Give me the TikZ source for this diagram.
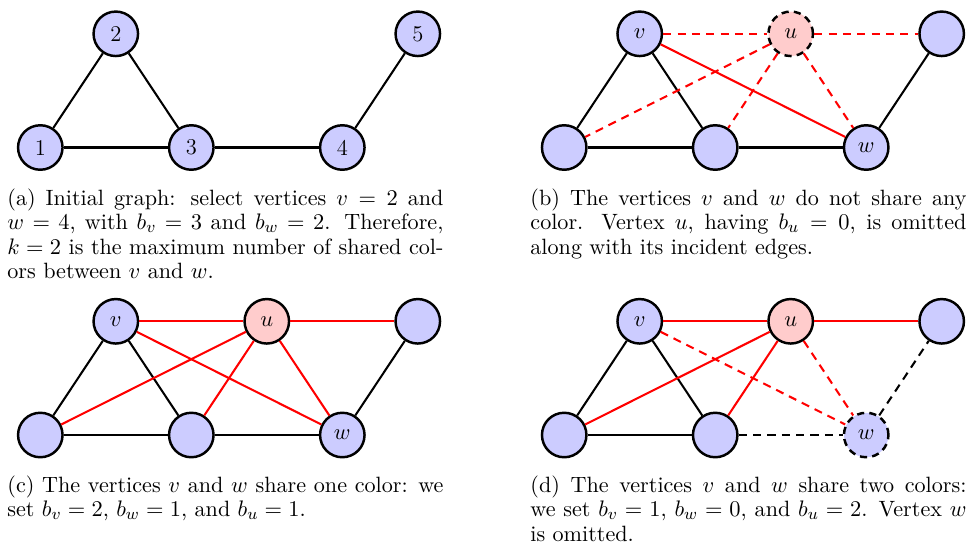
\documentclass[tikz,border=0pt]{standalone}
\begin{document}
\begin{tikzpicture}[
  x=0.4878pt, y=-0.4878pt,
  vert/.style={circle, draw=black, very thick, fill=blue!20, minimum size=21.7pt, inner sep=0pt, font=\fontsize{11}{13}\selectfont},
  uvert/.style={vert, fill=red!20},
  gonevert/.style={dash pattern=on 3.5pt off 2.5pt},
  blk/.style={line width=1pt, black},
  rd/.style={line width=1pt, red},
  dsh/.style={dash pattern=on 4pt off 3pt},
  captxt/.style={anchor=base west, inner sep=0pt, font=\fontsize{10.8}{11.95}\selectfont}
]
\useasboundingbox (0,0) rectangle (967,546);

% ---------- (a)
\node[vert] (a1) at (40.3,147.5) {1};
\node[vert] (a2) at (115.8,33.8) {2};
\node[vert] (a3) at (191.3,147.5) {3};
\node[vert] (a4) at (342.3,147.5) {4};
\node[vert] (a5) at (417.8,33.8) {5};
\draw[blk] (a1) -- (a2);
\draw[blk] (a2) -- (a3);
\draw[blk] (a1) -- (a3);
\draw[blk] (a3) -- (a4);
\draw[blk] (a4) -- (a5);
\node[captxt] (capa) at (7,205) {\parbox[t]{212.7pt}{(a) Initial graph: select vertices $v=2$ and\linebreak $w=4$, with $b_v=3$ and $b_w=2$. Therefore,\linebreak $k=2$ is the maximum number of shared col-\linebreak ors between $v$ and $w$.}};

% ---------- (b)
\node[vert] (bA) at (564.2,147.5) {};
\node[vert] (bv) at (639.7,33.8) {$v$};
\node[vert] (bC) at (715.2,147.5) {};
\node[uvert, gonevert] (bu) at (790.7,33.8) {$u$};
\node[vert] (bw) at (866.2,147.5) {$w$};
\node[vert] (bT) at (941.7,33.8) {};
\draw[blk] (bA) -- (bv);
\draw[blk] (bv) -- (bC);
\draw[blk] (bA) -- (bC);
\draw[blk] (bC) -- (bw);
\draw[blk] (bw) -- (bT);
\draw[rd] (bv) -- (bw);
\draw[rd, dsh] (bv) -- (bu);
\draw[rd, dsh] (bu) -- (bT);
\draw[rd, dsh] (bu) -- (bA);
\draw[rd, dsh] (bu) -- (bC);
\draw[rd, dsh] (bu) -- (bw);
\node[captxt] (capb) at (530,205) {\parbox[t]{212.7pt}{(b) The vertices $v$ and $w$ do not share any\linebreak color. Vertex $u$, having $b_u=0$, is omitted\linebreak along with its incident edges.}};

% ---------- (c)
\node[vert] (cA) at (40.3,435) {};
\node[vert] (cv) at (115.8,321.3) {$v$};
\node[vert] (cC) at (191.3,435) {};
\node[uvert] (cu) at (266.8,321.3) {$u$};
\node[vert] (cw) at (342.3,435) {$w$};
\node[vert] (cT) at (417.8,321.3) {};
\draw[blk] (cA) -- (cv);
\draw[blk] (cv) -- (cC);
\draw[blk] (cA) -- (cC);
\draw[blk] (cC) -- (cw);
\draw[blk] (cw) -- (cT);
\draw[rd] (cv) -- (cw);
\draw[rd] (cv) -- (cu);
\draw[rd] (cu) -- (cT);
\draw[rd] (cu) -- (cA);
\draw[rd] (cu) -- (cC);
\draw[rd] (cu) -- (cw);
\node[captxt] (capc) at (7,492) {\parbox[t]{212.7pt}{(c) The vertices $v$ and $w$ share one color: we\linebreak set $b_v=2$, $b_w=1$, and $b_u=1$.}};

% ---------- (d)
\node[vert] (dA) at (564.2,435) {};
\node[vert] (dv) at (639.7,321.3) {$v$};
\node[vert] (dC) at (715.2,435) {};
\node[uvert] (du) at (790.7,321.3) {$u$};
\node[vert, gonevert] (dw) at (866.2,435) {$w$};
\node[vert] (dT) at (941.7,321.3) {};
\draw[blk] (dA) -- (dv);
\draw[blk] (dv) -- (dC);
\draw[blk] (dA) -- (dC);
\draw[blk, dsh] (dC) -- (dw);
\draw[blk, dsh] (dw) -- (dT);
\draw[rd, dsh] (dv) -- (dw);
\draw[rd] (dv) -- (du);
\draw[rd] (du) -- (dT);
\draw[rd] (du) -- (dA);
\draw[rd] (du) -- (dC);
\draw[rd, dsh] (du) -- (dw);
\node[captxt] (capd) at (530,492) {\parbox[t]{212.7pt}{(d) The vertices $v$ and $w$ share two colors:\linebreak we set $b_v=1$, $b_w=0$, and $b_u=2$. Vertex $w$\linebreak is omitted.}};
\end{tikzpicture}
\end{document}
